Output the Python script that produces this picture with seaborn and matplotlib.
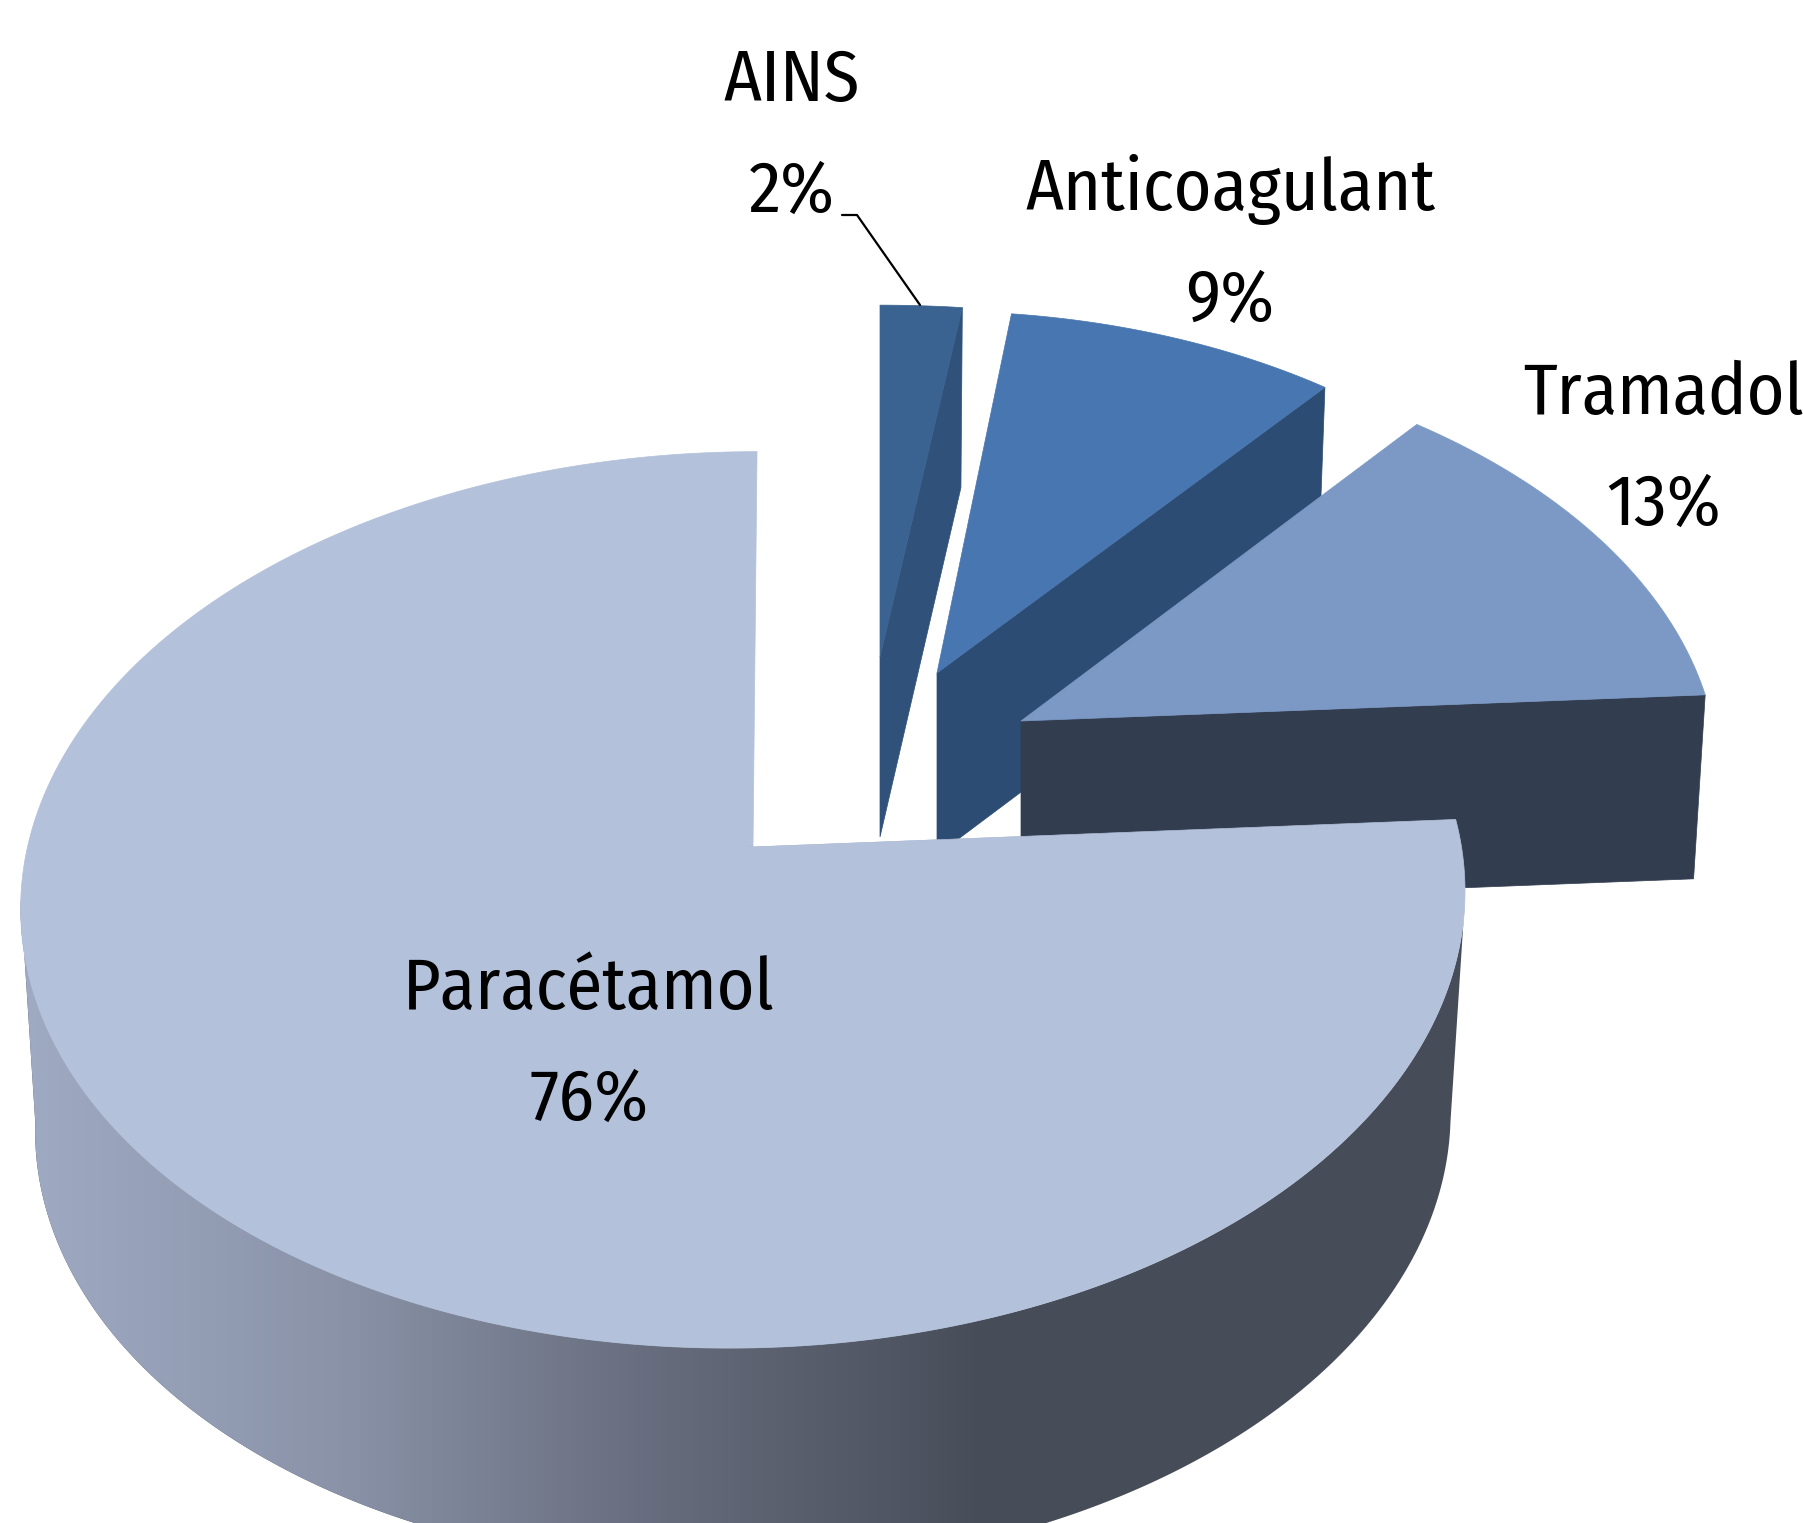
import logging
import numpy as np
import matplotlib
matplotlib.use('Agg')
import matplotlib.pyplot as plt
from matplotlib.patches import Polygon
import seaborn as sns

logging.getLogger('matplotlib.font_manager').setLevel(logging.ERROR)

# values, clockwise from 12 o'clock
categories = ['AINS', 'Anticoagulant', 'Tramadol', 'Paracétamol']
shares = [2, 9, 13, 76]

W, H = 1803, 1523
sns.set_theme(style='white')
plt.rcParams['font.family'] = ['Fira Sans Condensed', 'Lato', 'DejaVu Sans']

# perspective of the disc, in pixels
CX, CY = 744.5, 847
RX, RY, SKEW, K = 717, 442, 14, 0.118


def disc(theta, skew):
    """offset of a rim point from the disc centre, theta in degrees"""
    t = np.radians(theta)
    den = 1 + K * np.sin(t)
    return (RX * np.cos(t) + skew * np.sin(t)) / den, -RY * np.sin(t) / den


def rim(theta, apex, scale=1.0, depth=0, shrink=1.0, skew=0, stretch=1.0):
    dx, dy = disc(theta, skew)
    return np.column_stack([apex[0] + stretch * scale * shrink * dx, apex[1] + depth + scale * dy])


# slice angles from the shares (counter clockwise from east)
edges = 90 - 3.6 * np.cumsum([0] + shares)
ends = dict(zip(categories, zip(edges[1:], edges[:-1])))

# exploded slices: apex, scale, x stretch, skew, depth, top colour, wall colour
style = {
    'AINS': ((880, 657), 0.89, 1.15, 0, 180, '#3a6391', '#305179'),
    'Anticoagulant': ((937, 673), 0.915, 1.012, 0, 182, '#4876b0', '#2d4c73'),
    'Tramadol': ((1021, 721), 0.95, 1.015, -12, 184, '#7c99c6', '#323d50'),
}

fig = plt.figure(figsize=(W / 100, H / 100), dpi=100)
ax = fig.add_axes([0, 0, 1, 1])

for name in categories[:3]:
    apex, scale, stretch, skew, depth, top_col, wall_col = style[name]
    a0, a1 = ends[name]
    # the wall of the cut facing the viewer
    p_top = rim(a0, apex, scale, skew=skew, stretch=stretch)
    p_low = rim(a0, apex, scale, depth, 0.983, skew, stretch)
    wall = np.vstack([[apex], p_top, p_low, [(apex[0], apex[1] + depth)]])
    ax.add_patch(Polygon(wall, closed=True, fc=wall_col, ec=wall_col, lw=0.5))
    top = np.vstack([[apex], rim(np.linspace(a0, a1, 80), apex, scale, skew=skew, stretch=stretch)])
    ax.add_patch(Polygon(top, closed=True, fc=top_col, ec=top_col, lw=0.5))

# main slice
apex = (753, 847)
a0, a1 = ends['Paracétamol']
main_top = '#b3c1da'
main_depth = 222

# side of the disc, shaded from left to right
tangent = np.degrees(np.arcsin(K))
th = np.linspace(180 + tangent, 360 - tangent, 300)
side_up = rim(th, (CX, CY), skew=SKEW)
side_low = rim(th, (CX, CY), 1.0, main_depth, 0.98, skew=SKEW)
outline = np.vstack([side_up, side_low[::-1]])
ax.add_patch(Polygon(outline, closed=True, fc='#474d58', ec='none', zorder=0.9))
clip = Polygon(outline, closed=True, fc='none', ec='none')
ax.add_patch(clip)
shade = sns.blend_palette(['#a0abc4', '#8a93a8', '#666c7c', '#474d58'], 256)
im = ax.imshow(np.array(shade)[None, :, :], aspect='auto', zorder=1)
im.set_extent([10, 985, H, 0])
im.set_clip_path(clip)

top_arc = rim(np.linspace(a1, a0, 400) % 360, (CX, CY), skew=SKEW)
ax.add_patch(Polygon(np.vstack([[apex], top_arc]), closed=True, fc=main_top, ec=main_top, lw=0.5, zorder=2))
# sliver of the inner wall
p90 = rim(np.array([a1]), (CX, CY), skew=SKEW)[0]
ax.add_patch(Polygon([p90, (745, 847), apex], closed=True, fc='#9aa7c2', ec='none', zorder=2.1))

# labels
label_pos = {
    'AINS': (792, 137),
    'Anticoagulant': (1230, 245),
    'Tramadol': (1664, 450),
    'Paracétamol': (589, 1045),
}
for name, share in zip(categories, shares):
    x, y = label_pos[name]
    ax.text(x, y, f'{name}\n{share}%', ha='center', va='center', fontsize=52,
            linespacing=1.77, color='black', zorder=5)

# leader line of the small slice
ax.plot([842, 857, 920], [215, 215, 305], color='black', lw=1.6, zorder=4)

ax.set_xlim(0, W)
ax.set_ylim(H, 0)
ax.set_axis_off()

fig.savefig('out.png', dpi=100, facecolor='white')
